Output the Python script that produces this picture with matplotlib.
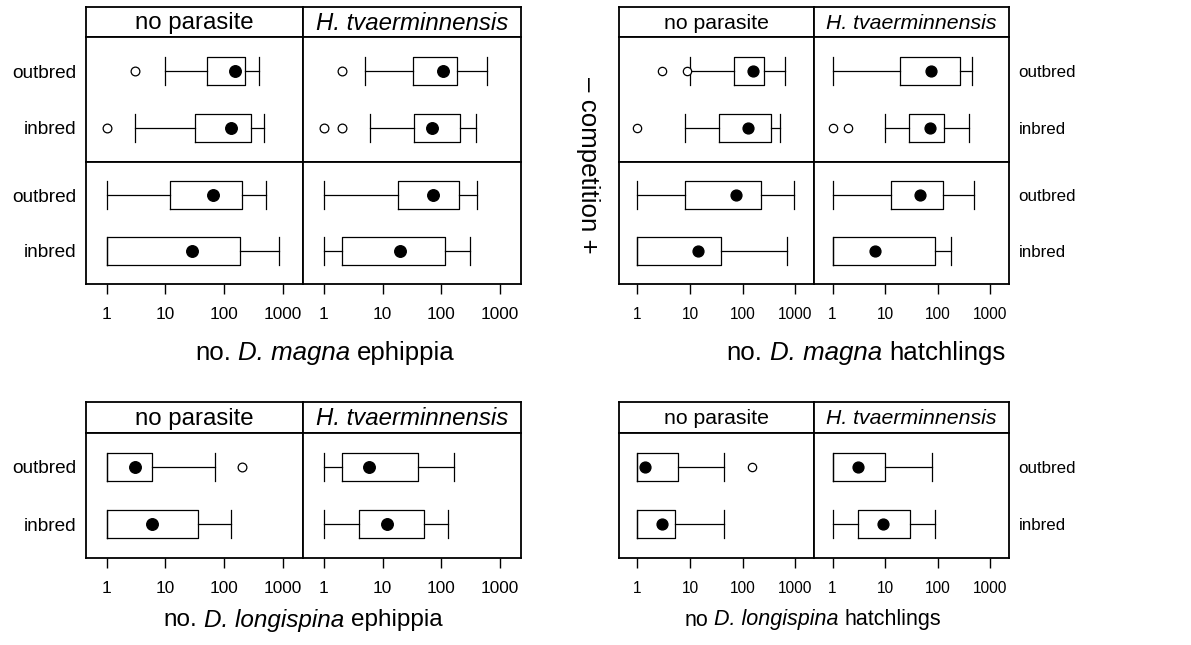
import matplotlib
matplotlib.use("Agg")
import matplotlib.pyplot as plt
from matplotlib.ticker import NullLocator, FixedLocator

plt.rcParams['font.family'] = ['Liberation Sans', 'DejaVu Sans']

# ---------------- data ----------------
genotypes = ["inbred", "outbred"]
parasites = ["no parasite", "H. tvaerminnensis"]
x_ticks = [1, 10, 100, 1000]
x_ticklabels = ["1", "10", "100", "1000"]

# panel order: (-comp, no parasite), (-comp, H.tv), (+comp, no parasite), (+comp, H.tv)
# within each panel: inbred, outbred
# D. magna ephippia
mag_eph_whislo = [3, 10, 6, 5, 1, 1, 1, 1]
mag_eph_q1 = [32, 51, 34, 33, 1, 12, 2, 18]
mag_eph_med = [133, 156, 68, 107, 28.5, 64, 20, 73]
mag_eph_q3 = [285, 228, 208, 187, 190, 205, 114, 203]
mag_eph_whishi = [487, 390, 395, 608, 855, 513, 312, 400]
mag_eph_fliers = [[1], [3], [1, 2], [2], [], [], [], []]

# D. magna hatchlings
mag_hat_whislo = [8, 10, 10, 1, 1, 1, 1, 1]
mag_hat_q1 = [35, 69, 28, 19, 1, 8, 1, 13]
mag_hat_med = [125, 158, 72, 74, 14, 76, 6.5, 46]
mag_hat_q3 = [351, 255, 129, 267, 38, 224, 90, 125]
mag_hat_whishi = [513, 630, 384, 443, 677, 957, 180, 484]
mag_hat_fliers = [[1], [3, 8.7], [1, 2], [], [], [], [], []]

# panel order: no parasite, H.tv ; within: inbred, outbred
# D. longispina ephippia
lon_eph_whislo = [1, 1, 1, 1]
lon_eph_q1 = [1, 1, 4, 2]
lon_eph_med = [6, 3, 12, 5.9]
lon_eph_q3 = [36.5, 6, 50, 40]
lon_eph_whishi = [131, 69, 130, 164]
lon_eph_fliers = [[], [205], [], []]

# D. longispina hatchlings
lon_hat_whislo = [1, 1, 1, 1]
lon_hat_q1 = [1, 1, 3, 1]
lon_hat_med = [3, 1.42, 9, 3.1]
lon_hat_q3 = [5.1, 6, 29, 10]
lon_hat_whishi = [45, 45, 90, 76]
lon_hat_fliers = [[], [151], [], []]

# axis titles: (text, italic?) pieces
xlab_mag_eph = [("no.", False), ("D. magna", True), ("ephippia", False)]
xlab_mag_hat = [("no.", False), ("D. magna", True), ("hatchlings", False)]
xlab_lon_eph = [("no.", False), ("D. longispina", True), ("ephippia", False)]
xlab_lon_hat = [("no", False), ("D. longispina", True), ("hatchlings", False)]
side_label = "\u2013 competition +"

# ---------------- layout ----------------
W, H = 1191, 645
fig = plt.figure(figsize=(W / 100, H / 100), dpi=100)
renderer = fig.canvas.get_renderer()


def rect(x0, y0, x1, y1):
    return [x0 / W, 1 - y1 / H, (x1 - x0) / W, (y1 - y0) / H]


XLIM = (10 ** -0.352, 10 ** 3.352)
SPINE_LW = 1.3
BOX_LW = 0.9


def draw_panel(ax, whislo, q1, med, q3, whishi, fliers, idx, ms_dot, ms_out):
    stats = []
    for k, g in enumerate(genotypes):
        i = idx + k
        stats.append(dict(whislo=whislo[i], q1=q1[i], med=med[i], q3=q3[i],
                          whishi=whishi[i], fliers=fliers[i], label=g))
    kw = dict(positions=[1, 2], widths=0.5, capwidths=[0.5, 0.5],
              boxprops=dict(color='black', lw=BOX_LW),
              whiskerprops=dict(color='black', lw=BOX_LW, linestyle='-'),
              capprops=dict(color='black', lw=BOX_LW),
              medianprops=dict(linestyle='none'),
              flierprops=dict(marker='o', mfc='white', mec='black', ms=ms_out, mew=0.9),
              manage_ticks=False)
    try:
        ax.bxp(stats, orientation='horizontal', **kw)
    except TypeError:
        ax.bxp(stats, vert=False, **kw)
    ax.plot([med[idx], med[idx + 1]], [1, 2], linestyle='none', marker='o',
            color='black', ms=ms_dot)
    ax.set_xscale('log')
    ax.set_xlim(*XLIM)
    ax.set_ylim(0.4, 2.6)
    ax.xaxis.set_minor_locator(NullLocator())
    for s in ax.spines.values():
        s.set_linewidth(SPINE_LW)


def make_plot(x0, xm, x1, ys, data, side, fs):
    whislo, q1, med, q3, whishi, fliers = data
    nblocks = len(ys) - 2
    for c, (a, b) in enumerate([(x0, xm), (xm, x1)]):
        sax = fig.add_axes(rect(a, ys[0], b, ys[1]))
        sax.set_xticks([]); sax.set_yticks([])
        for s in sax.spines.values():
            s.set_linewidth(SPINE_LW)
        sax.text(0.5, 0.45, parasites[c], ha='center', va='center',
                 fontsize=fs['strip'], style='italic' if c == 1 else 'normal',
                 transform=sax.transAxes)
        for r in range(nblocks):
            ax = fig.add_axes(rect(a, ys[r + 1], b, ys[r + 2]))
            idx = (r * 2 + c) * 2
            draw_panel(ax, whislo, q1, med, q3, whishi, fliers, idx,
                       fs['dot'], fs['out'])
            if r == nblocks - 1:
                ax.xaxis.set_major_locator(FixedLocator(x_ticks))
                ax.set_xticklabels(x_ticklabels, fontsize=fs['xt'])
                ax.tick_params(axis='x', direction='out', length=7, width=1.0,
                               pad=fs['xpad'])
            else:
                ax.tick_params(axis='x', bottom=False, labelbottom=False)
            ax.set_yticks([1, 2])
            if (side == 'left' and c == 0) or (side == 'right' and c == 1):
                ax.set_yticklabels(genotypes, fontsize=fs['yt'])
                if side == 'right':
                    ax.yaxis.tick_right()
                ax.tick_params(axis='y', length=0, pad=7)
            else:
                ax.tick_params(axis='y', left=False, labelleft=False,
                               right=False, labelright=False)


fs_left = dict(strip=17.3, xt=12.4, yt=13.7, dot=8.3, out=6.3, xpad=9.5)
fs_right = dict(strip=15.3, xt=11.2, yt=12.2, dot=7.8, out=6, xpad=9.5)

make_plot(86, 303.3, 520.7, [7, 37, 162, 284],
          (mag_eph_whislo, mag_eph_q1, mag_eph_med, mag_eph_q3, mag_eph_whishi, mag_eph_fliers),
          'left', fs_left)
make_plot(618.7, 814, 1009, [7, 37, 162, 284],
          (mag_hat_whislo, mag_hat_q1, mag_hat_med, mag_hat_q3, mag_hat_whishi, mag_hat_fliers),
          'right', fs_right)
make_plot(86, 303.3, 520.7, [401.7, 432.7, 558.3],
          (lon_eph_whislo, lon_eph_q1, lon_eph_med, lon_eph_q3, lon_eph_whishi, lon_eph_fliers),
          'left', fs_left)
make_plot(618.7, 814, 1009, [401.7, 432.7, 558.3],
          (lon_hat_whislo, lon_hat_q1, lon_hat_med, lon_hat_q3, lon_hat_whishi, lon_hat_fliers),
          'right', fs_right)


def text_width(s, size, italic):
    t = fig.text(0, 0, s, fontsize=size, style='italic' if italic else 'normal')
    w = t.get_window_extent(renderer).width
    t.remove()
    return w


def mixed_text(xc, y, pieces, size):
    space = text_width("a a", size, False) - text_width("aa", size, False)
    widths = [text_width(s, size, it) for s, it in pieces]
    total = sum(widths) + space * (len(pieces) - 1)
    x = xc - total / 2
    for (s, it), w in zip(pieces, widths):
        fig.text(x / W, 1 - y / H, s, fontsize=size, ha='left', va='center',
                 style='italic' if it else 'normal')
        x += w + space


mixed_text(325, 353, xlab_mag_eph, 18.6)
mixed_text(866, 353, xlab_mag_hat, 18.6)
mixed_text(303, 620, xlab_lon_eph, 17.5)
mixed_text(813, 620, xlab_lon_hat, 15.5)
fig.text(588 / W, 1 - 165 / H, side_label, fontsize=18.6, ha='center',
         va='center', rotation=-90)

fig.savefig("out.png", dpi=100)
